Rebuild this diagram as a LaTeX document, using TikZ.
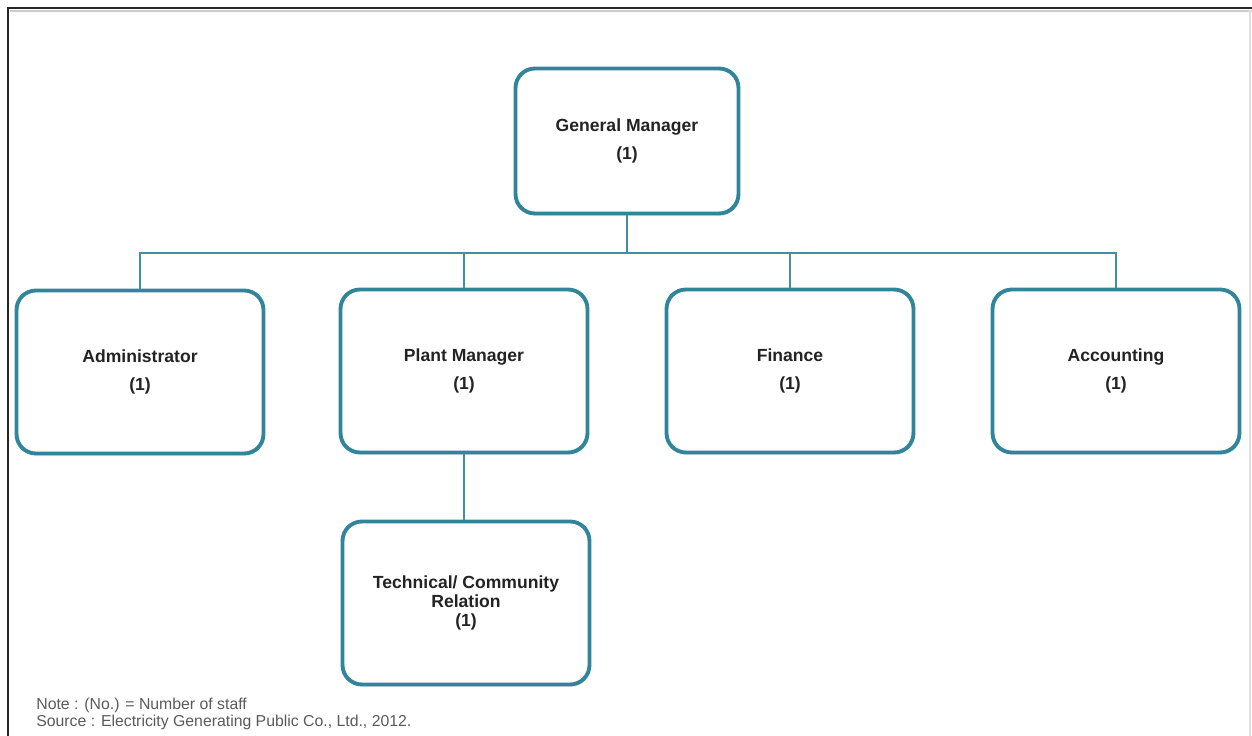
\documentclass[tikz,border=0pt]{standalone}
\usepackage{fontspec}
\setmainfont{Liberation Sans}
\usetikzlibrary{shadows}

\definecolor{boxteal}{RGB}{49,133,155}
\definecolor{lineteal}{RGB}{66,142,163}
\definecolor{textdark}{RGB}{35,35,35}
\definecolor{notegray}{RGB}{90,90,90}

\begin{document}
\begin{tikzpicture}[x=0.02cm, y=-0.02cm,
    unit/.style={draw=boxteal, line width=2.2pt, rounded corners=11pt, fill=white,
        minimum width=4.94cm, minimum height=3.26cm, inner sep=0pt, align=center,
        text=textdark, font=\fontsize{10}{12}\selectfont\bfseries,
        drop shadow={opacity=0.25, shadow xshift=0.6pt, shadow yshift=-1.2pt}},
    link/.style={draw=lineteal, line width=1.4pt},
    note/.style={anchor=west, inner sep=0pt, text=notegray, font=\fontsize{9}{10.8}\selectfont}]

    \useasboundingbox (0,0) rectangle (1252,736);

    % Frame
    \draw[black!20, line width=0.8pt] (10,11) -- (1252,11);
    \draw[black!85, line width=1.6pt] (8,736) -- (8,8) -- (1252,8);
    \draw[black!12, line width=0.8pt] (1250,10) -- (1250,736);

    % Nodes
    \node[unit, minimum width=4.46cm, minimum height=2.9cm] (gm) at (627,141) {General Manager\\[4pt](1)};
    \node[unit] (adm) at (140,372) {Administrator\\[4pt](1)};
    \node[unit] (pm) at (464,371) {Plant Manager\\[4pt](1)};
    \node[unit] (fin) at (790,371) {Finance\\[4pt](1)};
    \node[unit] (acc) at (1116,371) {Accounting\\[4pt](1)};
    \node[unit, font=\fontsize{10}{11}\selectfont\bfseries] (tech) at (466,603) {Technical/ Community\\Relation\\(1)};

    \coordinate (bar) at (627,253);

    % Edges
    \draw[link] (gm.south) -- (bar);
    \draw[link] (adm.north) |- (bar) -| (acc.north);
    \draw[link] (pm.north) |- (bar);
    \draw[link] (fin.north) |- (bar);
    \draw[link] (pm.south) -- (pm.south |- tech.north);

    % Notes
    \node[note] (note) at (36,705) {Note : (No.) = Number of staff};
    \node[note] (source) at (36,722) {Source : Electricity Generating Public Co., Ltd., 2012.};
\end{tikzpicture}
\end{document}
